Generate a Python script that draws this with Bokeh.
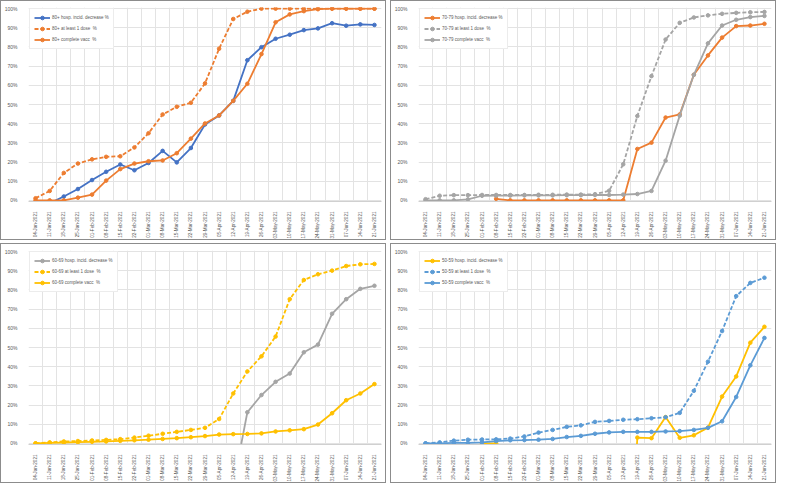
import math
from bokeh.plotting import figure
from bokeh.layouts import row, column
from bokeh.models import Range1d, FixedTicker, NumeralTickFormatter, Legend, LegendItem
from bokeh.embed import file_html
from bokeh.resources import INLINE

nan = float("nan")

dates = ["04-Jan-2021", "11-Jan-2021", "18-Jan-2021", "25-Jan-2021", "01-Feb-2021",
         "08-Feb-2021", "15-Feb-2021", "22-Feb-2021", "01-Mar-2021", "08-Mar-2021",
         "15-Mar-2021", "22-Mar-2021", "29-Mar-2021", "05-Apr-2021", "12-Apr-2021",
         "19-Apr-2021", "26-Apr-2021", "03-May-2021", "10-May-2021", "17-May-2021",
         "24-May-2021", "31-May-2021", "07-Jun-2021", "14-Jun-2021", "21-Jun-2021"]

y_ticks = [0.0, 0.1, 0.2, 0.3, 0.4, 0.5, 0.6, 0.7, 0.8, 0.9, 1.0]

# 80+
hosp_80 = [-0.03, -0.015, 0.02, 0.059, 0.106, 0.149, 0.187, 0.157, 0.195, 0.258, 0.198, 0.273,
           0.396, 0.443, 0.519, 0.731, 0.799, 0.843, 0.864, 0.888, 0.897, 0.924, 0.911, 0.918, 0.915]
dose1_80 = [0.011, 0.049, 0.143, 0.192, 0.214, 0.227, 0.23, 0.276, 0.35, 0.448, 0.488, 0.509,
            0.61, 0.791, 0.946, 0.984, 1.0, 1.0, 1.0, 1.0, 1.0, 1.0, 1.0, 1.0, 1.0]
full_80 = [0.0, 0.0, 0.0, 0.014, 0.03, 0.103, 0.163, 0.192, 0.204, 0.208, 0.246, 0.322,
           0.401, 0.443, 0.519, 0.608, 0.763, 0.929, 0.97, 0.987, 0.997, 1.0, 1.0, 1.0, 1.0]

# 70-79
hosp_70 = [nan, nan, nan, nan, nan, 0.008, 0.0, 0.0, 0.0, 0.0, 0.0, 0.0, 0.0, 0.0, 0.0,
           0.268, 0.301, 0.432, 0.448, 0.655, 0.756, 0.849, 0.909, 0.912, 0.921]
dose1_70 = [0.006, 0.024, 0.027, 0.027, 0.028, 0.028, 0.028, 0.028, 0.029, 0.029, 0.03, 0.03,
            0.032, 0.05, 0.188, 0.44, 0.648, 0.839, 0.926, 0.954, 0.965, 0.973, 0.978, 0.981, 0.983]
full_70 = [0.0, 0.0, 0.0, 0.005, 0.024, 0.025, 0.025, 0.026, 0.026, 0.026, 0.027, 0.027,
           0.028, 0.028, 0.03, 0.033, 0.049, 0.207, 0.442, 0.655, 0.819, 0.912, 0.942, 0.956, 0.962]

# 60-69
hosp_60 = [nan, nan, nan, nan, nan, nan, nan, nan, nan, nan, nan, nan, nan, nan,
           -0.22, 0.162, 0.252, 0.321, 0.364, 0.475, 0.515, 0.676, 0.752, 0.806, 0.822]
dose1_60 = [0.0, 0.005, 0.01, 0.012, 0.015, 0.018, 0.022, 0.03, 0.04, 0.05, 0.06, 0.07,
            0.081, 0.127, 0.26, 0.375, 0.454, 0.557, 0.752, 0.852, 0.882, 0.901, 0.925, 0.934, 0.936]
full_60 = [0.0, 0.002, 0.004, 0.006, 0.008, 0.01, 0.013, 0.016, 0.019, 0.023, 0.027, 0.032,
           0.038, 0.046, 0.048, 0.049, 0.052, 0.062, 0.068, 0.074, 0.098, 0.157, 0.225, 0.26, 0.309]

# 50-59
hosp_50 = [nan, nan, nan, nan, 0.0, 0.0, nan, nan, nan, nan, nan, nan, nan, nan,
           -1.2, 0.03, 0.027, 0.137, 0.029, 0.042, 0.082, 0.244, 0.349, 0.525, 0.608]
dose1_50 = [0.0, 0.005, 0.014, 0.019, 0.02, 0.021, 0.025, 0.036, 0.056, 0.07, 0.086, 0.094,
            0.112, 0.117, 0.123, 0.126, 0.131, 0.136, 0.159, 0.274, 0.426, 0.586, 0.768, 0.837, 0.864]
full_50 = [0.0, 0.0, 0.002, 0.002, 0.005, 0.012, 0.016, 0.017, 0.019, 0.023, 0.033, 0.039,
           0.05, 0.057, 0.06, 0.06, 0.06, 0.062, 0.064, 0.07, 0.081, 0.115, 0.242, 0.407, 0.55]

BLUE = "#4472C4"
ORANGE = "#ED7D31"
GRAY = "#A5A5A5"
YELLOW = "#FFC000"
LBLUE = "#5B9BD5"

FONT = "Liberation Sans"
TXT = "#595959"
GRID = "#E3E3E3"


def panel(group, hosp, dose1, full, c_hosp, c_vacc, lft):
    x = list(range(len(dates)))
    p = figure(width=386, height=240, output_backend="svg", toolbar_location=None,
               x_range=Range1d(-0.5, len(dates) - 0.5), y_range=Range1d(-0.006, 1.006),
               min_border_left=lft, min_border_right=6, min_border_top=6, min_border_bottom=4,
               background_fill_color="white", border_fill_color="white",
               styles={"border": "1px solid #8c8c8c"})
    p.outline_line_color = None

    p.xaxis.ticker = FixedTicker(ticks=x)
    p.xaxis.major_label_overrides = {i: d for i, d in enumerate(dates)}
    p.xaxis.major_label_orientation = math.pi / 2
    p.xaxis.major_label_text_font_size = "4.6px"
    p.xaxis.major_label_text_font = FONT
    p.xaxis.major_label_text_color = TXT
    p.xaxis.major_tick_line_color = None
    p.xaxis.minor_tick_line_color = None
    p.xaxis.axis_line_color = "#D0D0D0"
    p.xaxis.major_label_standoff = 4

    p.yaxis.ticker = FixedTicker(ticks=y_ticks)
    p.yaxis.formatter = NumeralTickFormatter(format="0%")
    p.yaxis.major_label_text_font_size = "5px"
    p.yaxis.major_label_text_font = FONT
    p.yaxis.major_label_text_color = TXT
    p.yaxis.major_tick_line_color = None
    p.yaxis.minor_tick_line_color = None
    p.yaxis.axis_line_color = None
    p.yaxis.major_label_standoff = 5

    p.xgrid.ticker = FixedTicker(ticks=[i - 0.5 for i in range(len(dates) + 1)])
    p.xgrid.grid_line_color = GRID
    p.ygrid.grid_line_color = GRID

    items = []
    specs = [
        (f"{group} hosp. incid. decrease %", hosp, c_hosp, "solid"),
        (f"{group} at least 1 dose  %", dose1, c_vacc, "4 2"),
        (f"{group} complete vacc  %", full, c_vacc, "solid"),
    ]
    for label, ys, col, dash in specs:
        r1 = p.line(x, ys, line_color=col, line_width=1.8, line_dash=dash)
        r2 = p.scatter(x, ys, marker="circle", size=3.6, fill_color=col, line_color=col)
        items.append(LegendItem(label=label, renderers=[r1, r2]))

    legend = Legend(items=items, location="top_left")
    legend.margin = 1
    legend.padding = 4
    legend.spacing = 2
    legend.label_height = 9
    legend.glyph_height = 9
    legend.glyph_width = 16
    legend.label_standoff = 2
    legend.label_text_font = FONT
    legend.label_text_font_size = "4.5px"
    legend.label_text_color = TXT
    legend.border_line_color = "#D9D9D9"
    legend.background_fill_color = "white"
    legend.background_fill_alpha = 1.0
    p.add_layout(legend, "center")
    return p


p1 = panel("80+", hosp_80, dose1_80, full_80, BLUE, ORANGE, 24)
p2 = panel("70-79", hosp_70, dose1_70, full_70, ORANGE, GRAY, 22)
p3 = panel("60-69", hosp_60, dose1_60, full_60, GRAY, YELLOW, 24)
p4 = panel("50-59", hosp_50, dose1_50, full_50, YELLOW, LBLUE, 22)

layout = column(row(p1, p2, spacing=4), row(p3, p4, spacing=4), spacing=3)

open("out.html", "w").write(file_html(layout, INLINE))
